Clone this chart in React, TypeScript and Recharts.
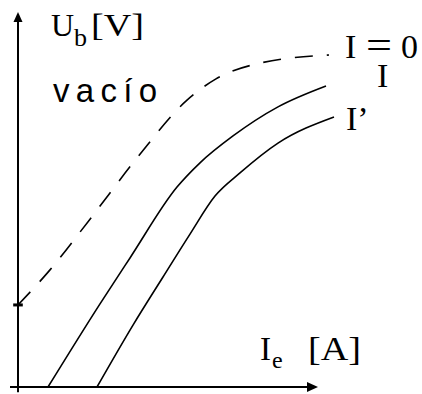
import React from "react";
import { LineChart, Line, XAxis, YAxis, ReferenceLine, ReferenceDot } from "recharts";

// Generator load curves: no-load (dashed) and two loaded curves, Ub vs Ie.

// no-load curve "vacío" (I = 0)
const vacio = [
  { ie: 0, u: 2.2 }, { ie: 0.8, u: 3.14 }, { ie: 1.8, u: 4.5 }, { ie: 2.975, u: 6.14 },
  { ie: 4.225, u: 7.69 }, { ie: 4.95, u: 8.26 }, { ie: 6.075, u: 8.69 }, { ie: 7.775, u: 8.9 },
];

// load current I
const cargaI = [
  { ie: 0.75, u: 0 }, { ie: 2.05, u: 2.23 }, { ie: 2.8, u: 3.46 }, { ie: 3.975, u: 5.36 },
  { ie: 4.55, u: 6.01 }, { ie: 5.375, u: 6.73 }, { ie: 6.5, u: 7.51 }, { ie: 7.7, u: 8.07 },
];

// larger load current I'
const cargaI2 = [
  { ie: 1.975, u: 0 }, { ie: 2.875, u: 1.66 }, { ie: 3.625, u: 2.95 }, { ie: 4.3, u: 4.1 },
  { ie: 4.925, u: 5.12 }, { ie: 5.55, u: 5.74 }, { ie: 6.5, u: 6.54 }, { ie: 7.9, u: 7.24 },
];

const xDomain = [0, 10];
const yDomain = [0, 10];
const xEnd = 7.5;   // tip of the Ie arrow
const yEnd = 10;    // tip of the Ub arrow
const u0 = 2.2;     // mark on the U axis where the no-load curve starts

const serif = "'Liberation Serif', 'DejaVu Serif', serif";
const sans = "'Liberation Sans', Arial, sans-serif";

const upArrow = (p: any) => (
  <polygon points={`${p.cx},${p.cy - 2} ${p.cx - 4.5},${p.cy + 8} ${p.cx + 4.5},${p.cy + 8}`} fill="#000" />
);
const rightArrow = (p: any) => (
  <polygon points={`${p.cx},${p.cy} ${p.cx - 11},${p.cy - 5} ${p.cx - 11},${p.cy + 5}`} fill="#000" />
);

export default function App() {
  return (
    <div style={{ position: "relative", width: 422, height: 394, background: "#fff" }}>
      <style>{"body{margin:0}"}</style>
      <LineChart width={422} height={394} margin={{ top: 14, right: 4, bottom: 7, left: 18 }}>
        <XAxis type="number" dataKey="ie" domain={xDomain} hide allowDataOverflow />
        <YAxis type="number" dataKey="u" domain={yDomain} hide allowDataOverflow />
        <ReferenceLine segment={[{ x: -0.2, y: 0 }, { x: xEnd - 0.2, y: 0 }]} stroke="#000" strokeWidth={2} ifOverflow="visible" />
        <ReferenceLine segment={[{ x: 0, y: -0.14 }, { x: 0, y: yEnd - 0.2 }]} stroke="#000" strokeWidth={2} ifOverflow="visible" />
        <ReferenceLine segment={[{ x: -0.12, y: u0 }, { x: 0.12, y: u0 }]} stroke="#000" strokeWidth={3} ifOverflow="visible" />
        <ReferenceDot x={0} y={yEnd} ifOverflow="visible" shape={upArrow} />
        <ReferenceDot x={xEnd} y={0} ifOverflow="visible" shape={rightArrow} />
        <Line data={vacio} dataKey="u" type="monotone" stroke="#000" strokeWidth={1.6} strokeDasharray="18 14" dot={false} isAnimationActive={false} />
        <Line data={cargaI} dataKey="u" type="monotone" stroke="#000" strokeWidth={1.6} dot={false} isAnimationActive={false} />
        <Line data={cargaI2} dataKey="u" type="monotone" stroke="#000" strokeWidth={1.6} dot={false} isAnimationActive={false} />
      </LineChart>
      <svg width={422} height={394} style={{ position: "absolute", left: 0, top: 0, pointerEvents: "none" }}>
        <g fontFamily={serif} fill="#000">
          <text x={51} y={36} fontSize={32}>U</text>
          <text x={74} y={46} fontSize={26}>b</text>
          <text x={91} y={36} fontSize={32} textLength={53} lengthAdjust="spacingAndGlyphs">[V]</text>
          <text x={345} y={58} fontSize={34}>I</text>
          <text x={366} y={59} fontSize={40} textLength={26} lengthAdjust="spacingAndGlyphs">=</text>
          <text x={401} y={58} fontSize={34}>0</text>
          <text x={377} y={87} fontSize={34}>I</text>
          <text x={346} y={130} fontSize={34}>I’</text>
          <text x={260} y={360} fontSize={33}>I</text>
          <text x={272} y={368} fontSize={24}>e</text>
          <text x={308} y={360} fontSize={33} textLength={53} lengthAdjust="spacingAndGlyphs">[A]</text>
        </g>
        <text x={53} y={102} fontFamily={sans} fontSize={33} textLength={104} lengthAdjust="spacing" fill="#000">vacío</text>
      </svg>
    </div>
  );
}
